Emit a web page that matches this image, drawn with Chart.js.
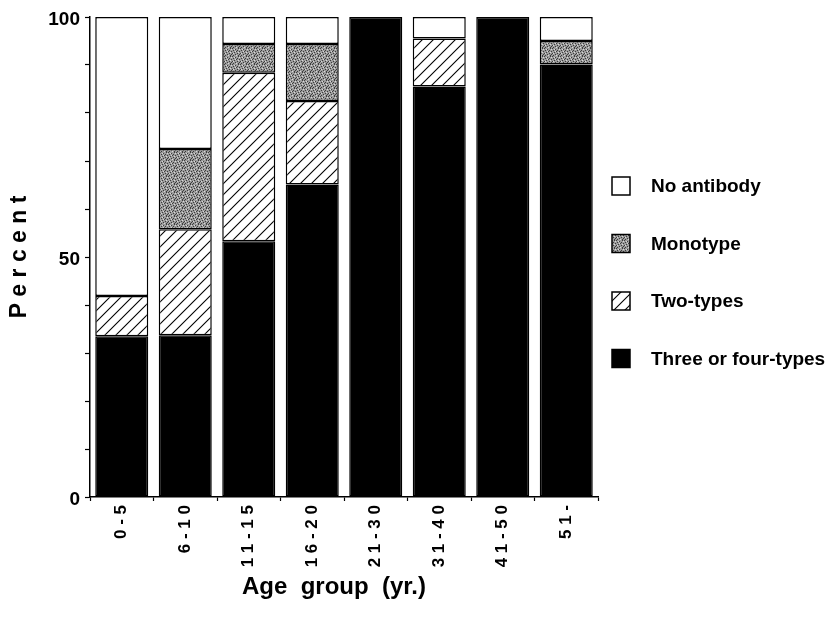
<!DOCTYPE html>
<html>
<head>
<meta charset="utf-8">
<script src="https://cdn.jsdelivr.net/npm/chart.js@4.4.1/dist/chart.umd.min.js"></script>
<style>
  html, body { margin: 0; padding: 0; background: #fff; }
  #wrap { width: 833px; height: 617px; }
</style>
</head>
<body>
<div id="wrap"><canvas id="ageChart" width="833" height="617"></canvas></div>
<script>
// --- data
var ageGroups = ['0 - 5', '6 - 1 0', '1 1 - 1 5', '1 6 - 2 0', '2 1 - 3 0', '3 1 - 4 0', '4 1 - 5 0', '5 1 -'];
var threeOrFour = [33.5, 33.7, 53.3, 65.1, 100, 85.5, 100, 90.1];
var twoTypes    = [8.4, 22.1, 35.1, 17.4, 0, 10.0, 0, 0];
var monotype    = [0, 16.7, 6.0, 11.9, 0, 0, 0, 4.9];
var noAntibody  = [58.1, 27.5, 5.6, 5.6, 0, 4.5, 0, 5.0];
var yTickLabels = [0, 50, 100];

var FONT = '"Liberation Sans", Arial, Helvetica, sans-serif';

// hatch pattern for "Two-types"
function makeHatch() {
    var c = document.createElement('canvas');
    c.width = 11; c.height = 11;
    var g = c.getContext('2d');
    g.fillStyle = '#fff';
    g.fillRect(0, 0, 11, 11);
    g.strokeStyle = '#000';
    g.lineWidth = 1.1;
    g.beginPath();
    g.moveTo(-1, 12); g.lineTo(12, -1);
    g.moveTo(-6, 6); g.lineTo(6, -6);
    g.moveTo(5, 17); g.lineTo(17, 5);
    g.stroke();
    return g.createPattern(c, 'repeat');
}

// stipple pattern for "Monotype" (fixed dot map, halftone look)
function makeStipple() {
    var c = document.createElement('canvas');
    c.width = 8; c.height = 8;
    var g = c.getContext('2d');
    g.fillStyle = '#9c9c9c';
    g.fillRect(0, 0, 8, 8);
    var dark = [[0,0],[3,1],[6,0],[1,2],[5,2],[4,3],[7,3],[2,4],[0,5],[5,5],[3,6],[7,6],[1,7],[6,7]];
    var light = [[2,1],[7,1],[3,3],[6,4],[1,5],[4,7]];
    g.fillStyle = '#3c3c3c';
    dark.forEach(function (d) { g.fillRect(d[0], d[1], 1, 1); });
    g.fillStyle = '#d8d8d8';
    light.forEach(function (d) { g.fillRect(d[0], d[1], 1, 1); });
    return g.createPattern(c, 'repeat');
}

var hatch = makeHatch();
var stipple = makeStipple();

// legend drawn at the right, top item first
var legendPlugin = {
    id: 'sideLegend',
    afterDraw: function (chart) {
        var ctx = chart.ctx;
        var items = chart.data.datasets.slice().reverse();
        var x0 = 612, y0 = 186, step = 57.5, box = 18;
        ctx.save();
        items.forEach(function (ds, i) {
            var cy = y0 + i * step;
            ctx.fillStyle = ds.backgroundColor;
            ctx.fillRect(x0, cy - box / 2, box, box);
            ctx.lineWidth = 1.5;
            ctx.strokeStyle = '#000';
            ctx.strokeRect(x0, cy - box / 2, box, box);
            ctx.fillStyle = '#000';
            ctx.font = 'bold 19px ' + FONT;
            ctx.textBaseline = 'middle';
            ctx.textAlign = 'left';
            ctx.fillText(ds.label, 651, cy + 1);
        });
        ctx.restore();
    }
};

function barSet(label, data, fill) {
    return {
        label: label,
        data: data,
        backgroundColor: fill,
        borderColor: '#000',
        borderWidth: 1.5,
        borderSkipped: false,
        barPercentage: 0.835,
        categoryPercentage: 1.0
    };
}

var ageChart = new Chart(document.getElementById('ageChart').getContext('2d'), {
    type: 'bar',
    data: {
        labels: ageGroups,
        datasets: [
            barSet('Three or four-types', threeOrFour, '#000'),
            barSet('Two-types', twoTypes, hatch),
            barSet('Monotype', monotype, stipple),
            barSet('No antibody', noAntibody, '#fff')
        ]
    },
    options: {
        responsive: false,
        animation: false,
        layout: { padding: { top: 17, right: 235, left: 0, bottom: 0 } },
        plugins: {
            legend: { display: false },
            tooltip: { enabled: false }
        },
        scales: {
            x: {
                stacked: true,
                afterFit: function (s) { s.height = 120; },
                border: { color: '#000', width: 1.5 },
                grid: { drawOnChartArea: false, offset: true, tickLength: 4, color: '#000', tickWidth: 1.2 },
                ticks: {
                    color: '#000',
                    maxRotation: 90,
                    minRotation: 90,
                    padding: 4,
                    autoSkip: false,
                    font: { family: FONT, size: 17, weight: 'bold' }
                },
                title: {
                    display: true,
                    text: 'Age  group  (yr.)   ',
                    color: '#000',
                    padding: { top: 0, bottom: 15 },
                    font: { family: FONT, size: 24, weight: 'bold' }
                }
            },
            y: {
                stacked: true,
                min: 0,
                max: 100,
                afterFit: function (s) { s.width = 90; },
                border: { color: '#000', width: 1.5 },
                grid: { drawOnChartArea: false, tickLength: 5, color: '#000', tickWidth: 1.2 },
                ticks: {
                    stepSize: 10,
                    color: '#000',
                    padding: 5,
                    labelOffset: 3,
                    font: { family: FONT, size: 19, weight: 'bold' },
                    callback: function (v) { return yTickLabels.indexOf(v) >= 0 ? String(v) : ''; }
                },
                title: {
                    display: true,
                    text: 'P e r c e n t',
                    color: '#000',
                    padding: { top: 6, bottom: 0 },
                    font: { family: FONT, size: 23, weight: 'bold' }
                }
            }
        }
    },
    plugins: [legendPlugin]
});
</script>
</body>
</html>
